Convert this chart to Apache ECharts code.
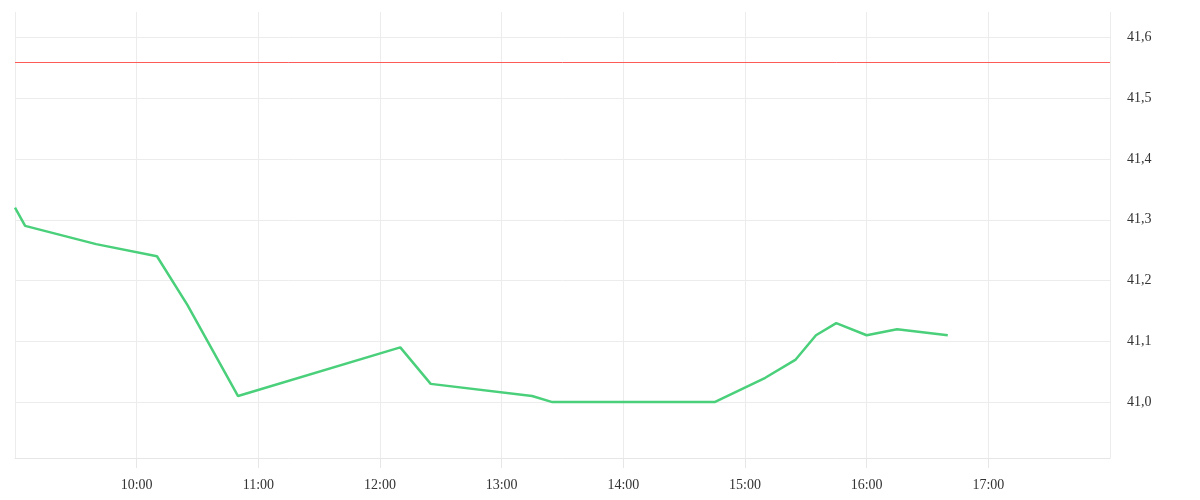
<!doctype html>
<html lang="en" style="height: 100%">

<head>
  <meta charset="utf-8" />
  <script type="text/javascript" src="https://fastly.jsdelivr.net/npm/echarts@6/dist/echarts.min.js"></script>
</head>

<body style="height: 100%; margin: 0; background: #fff">
  <div id="main" style="width: 1200px; height: 500px"></div>
  <script type="text/javascript">
    // price ticks along the day
    var times = ['9:00', '9:05', '9:40', '10:10', '10:25', '10:50', '12:10', '12:25', '13:15',
      '13:25', '14:45', '15:10', '15:25', '15:35', '15:45', '16:00', '16:15', '16:40'];
    var prices = [41.32, 41.29, 41.26, 41.24, 41.16, 41.01, 41.09, 41.03, 41.01,
      41.00, 41.00, 41.04, 41.07, 41.11, 41.13, 41.11, 41.12, 41.11];
    var refLevel = 41.56;
    var priceTicks = [41.0, 41.1, 41.2, 41.3, 41.4, 41.5, 41.6];

    function toMin(t) {
      var p = t.split(':');
      return +p[0] * 60 + +p[1];
    }

    var data = times.map(function (t, i) { return [toMin(t), prices[i]]; });

    var chartDom = document.getElementById('main');
    var myChart = echarts.init(chartDom);
    var font = '"Liberation Serif", serif';

    var option = {
      animation: false,
      grid: { left: 15, right: 90, top: 12, bottom: 42 },
      xAxis: {
        type: 'value',
        min: 540,
        max: 1080,
        interval: 60,
        axisLine: { show: true, lineStyle: { color: '#e6e6e6' } },
        axisTick: { show: true, length: 10, lineStyle: { color: '#e6e6e6' } },
        splitLine: { show: true, lineStyle: { color: '#ececec' } },
        axisLabel: {
          showMinLabel: false,
          showMaxLabel: false,
          margin: 20,
          color: '#333',
          fontFamily: font,
          fontSize: 14,
          formatter: function (v) { return Math.floor(v / 60) + ':00'; }
        }
      },
      yAxis: {
        type: 'value',
        position: 'right',
        min: 40.908,
        max: 41.642,
        axisLine: { show: false },
        axisTick: { show: false, customValues: priceTicks },
        splitLine: { show: true, lineStyle: { color: '#ececec' } },
        axisLabel: {
          customValues: priceTicks,
          margin: 17,
          padding: [9, 0, 0, 0],
          color: '#333',
          fontFamily: font,
          fontSize: 14,
          formatter: function (v) { return v.toFixed(1).replace('.', ','); }
        }
      },
      series: [
        {
          type: 'line',
          data: data,
          showSymbol: false,
          lineStyle: { color: '#4ad07a', width: 2.5 },
          markLine: {
            silent: true,
            symbol: 'none',
            label: { show: false },
            lineStyle: { color: '#ff5a5a', width: 1, type: 'solid' },
            data: [{ yAxis: refLevel }]
          }
        }
      ]
    };
    option && myChart.setOption(option);
  </script>
</body>

</html>
